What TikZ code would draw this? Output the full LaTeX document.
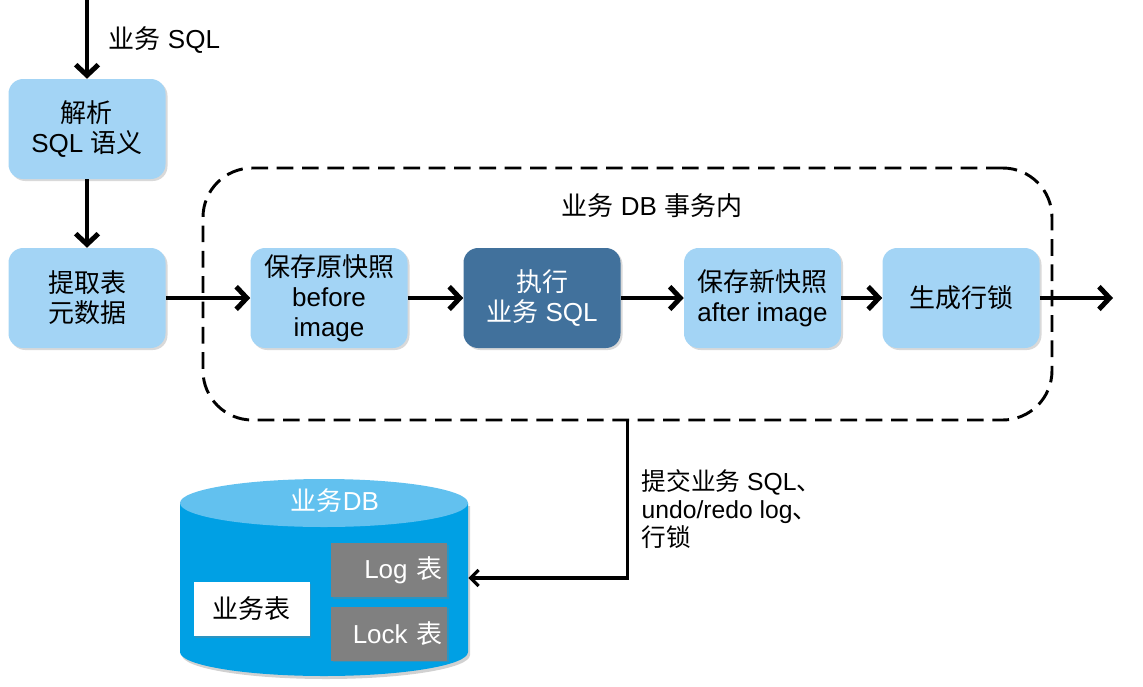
\documentclass[tikz,border=0pt]{standalone}
\usepackage{fontspec}
\setmainfont{Liberation Sans}
\newfontfamily\cjk{Noto Sans CJK SC}
\newcommand\zh[1]{{\cjk #1}}
\usetikzlibrary{arrows.meta,shadows}
\definecolor{boxblue}{RGB}{163,212,245}
\definecolor{execblue}{RGB}{65,113,156}
\definecolor{dbblue}{RGB}{0,160,228}
\definecolor{dbtop}{RGB}{98,193,239}
\definecolor{tabgray}{RGB}{128,128,128}
\begin{document}
\begin{tikzpicture}[x=0.75pt,y=-0.75pt,
  txt/.style={font=\fontsize{19.5}{22.5}\selectfont},
  stepbox/.style={txt, fill=boxblue, rounded corners=11pt, minimum width=117.75pt,
    minimum height=75pt, align=center, inner sep=2pt,
    drop shadow={opacity=0.3, shadow xshift=1.5pt, shadow yshift=-1.5pt}},
  flow/.style={line width=3.7pt, -{Straight Barb[length=8pt,width=17pt]}},
  commit/.style={line width=2.4pt, -{Straight Barb[length=6pt,width=12pt]}},
  tabbox/.style={txt, minimum width=87pt, minimum height=40.5pt,
    drop shadow={opacity=0.35, shadow xshift=1.2pt, shadow yshift=-1.2pt}},
]
\useasboundingbox (0,0) rectangle (1143,686);

% dashed transaction frame
\node[draw, line width=2.2pt, dash pattern=on 12.5pt off 6.5pt, rounded corners=37pt,
  minimum width=636.75pt, minimum height=189pt, inner sep=0pt] (txn) at (627.5,294) {};
\node[txt] (txnlabel) at (652,206) {\zh{业务} DB \zh{事务内}};

% steps
\node[stepbox] (parse) at (87,129) {\zh{解析}\\SQL \zh{语义}};
\node[stepbox] (meta) at (87,298) {\zh{提取表}\\\zh{元数据}};
\node[stepbox] (before) at (329,298) {\zh{保存原快照}\\before\\image};
\node[stepbox, fill=execblue, text=white] (exec) at (542,298) {\zh{执行}\\\zh{业务} SQL};
\node[stepbox] (after) at (762.5,298) {\zh{保存新快照}\\after image};
\node[stepbox] (lock) at (961,298) {\zh{生成行锁}};

\coordinate (in0) at (87,0);
\coordinate (out) at (1113,294);
\node[txt, anchor=west] (sqllabel) at (104,40) {\zh{业务} SQL};

\draw[flow] (in0) -- (parse.north);
\draw[flow] (parse.south) -- (meta.north);
\draw[flow] (meta.east) -- (before.west);
\draw[flow] (before.east) -- (exec.west);
\draw[flow] (exec.east) -- (after.west);
\draw[flow] (after.east) -- (lock.west);
\draw[flow] (lock.east) -- (lock.east -| out);

% database cylinder
\fill[black, opacity=0.18] (182,506) -- (182,655) arc[start angle=180,end angle=360,x radius=108pt,y radius=18pt] -- (470,506) -- cycle;
\fill[dbblue] (180,503) -- (180,652) arc[start angle=180,end angle=360,x radius=108pt,y radius=18pt] -- (468,503) -- cycle;
\fill[dbtop] (324,503) ellipse[x radius=108pt, y radius=18pt];
\node[inner sep=0pt, minimum width=216pt, minimum height=10pt] (db) at (324,578) {};
\node[txt, text=white] (dblabel) at (335,501) {\zh{业务}DB};

\node[tabbox, fill=white] (biz) at (251.5,609) {\zh{业务表}};
\node[tabbox, fill=tabgray, text=white, text width=80pt, align=right, inner xsep=3.5pt] (logt) at (389,570) {Log \zh{表}};
\node[tabbox, fill=tabgray, text=white, text width=80pt, align=right, inner xsep=3.5pt] (lockt) at (389,633.5) {Lock \zh{表}};

% commit
\draw[commit] (txn.south) |- (db.east);
\node[txt, anchor=north west, align=left, font=\fontsize{18.5}{21}\selectfont] (commitlabel) at (637,465)
  {\zh{提交业务} SQL\zh{、}\\undo/redo log\zh{、}\\\zh{行锁}};
\end{tikzpicture}
\end{document}
